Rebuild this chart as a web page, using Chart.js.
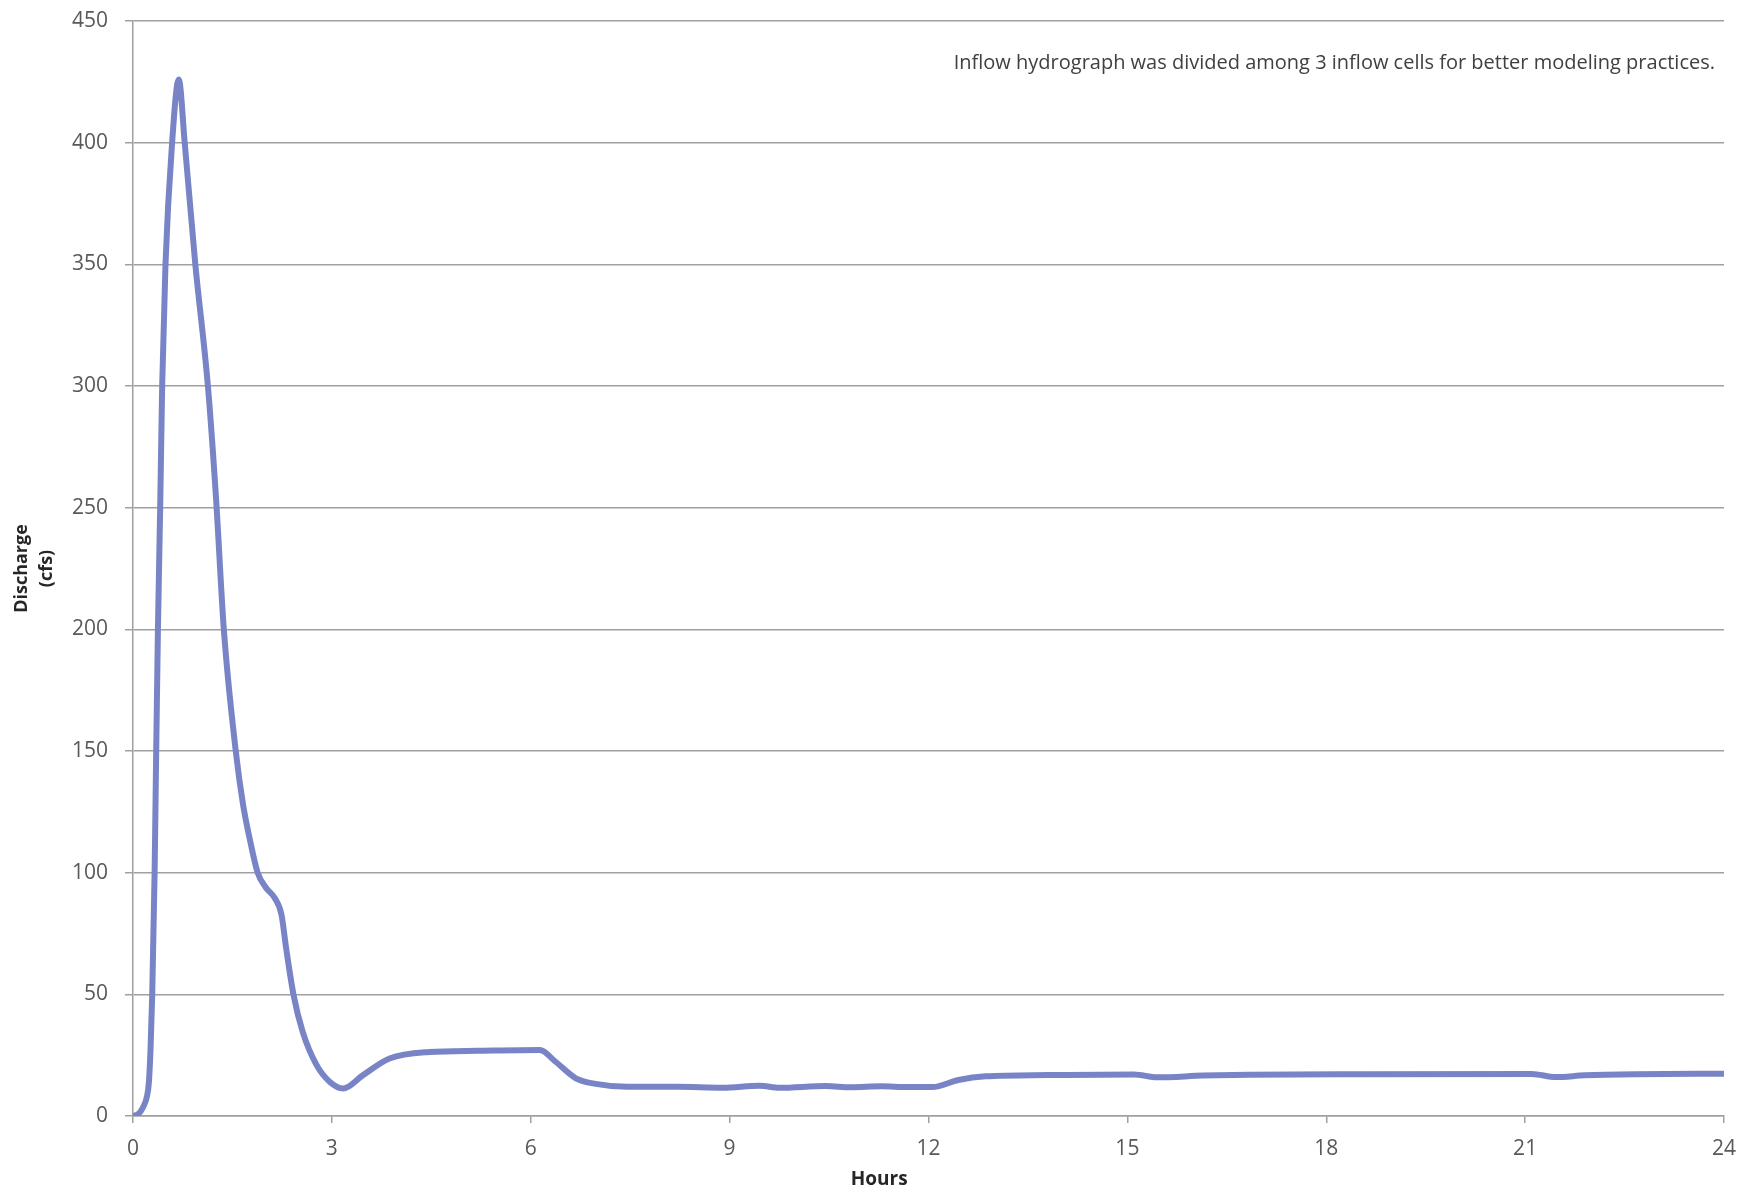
<!DOCTYPE html>
<html>
<head>
<meta charset="utf-8">
<script src="https://cdn.jsdelivr.net/npm/chart.js@4"></script>
<style>
  html, body { margin: 0; padding: 0; background: #ffffff; }
  #wrap { width: 1743px; height: 1192px; }
</style>
</head>
<body>
<div id="wrap"><canvas id="c" width="1743" height="1192"></canvas></div>
<script>
// ---- data ----
const hours = [0, 0.08, 0.15, 0.21, 0.24, 0.265, 0.29, 0.326, 0.35, 0.376, 0.41, 0.44, 0.49, 0.59, 0.69, 0.78, 0.94,
  1.13, 1.25, 1.37, 1.55, 1.66, 1.76, 1.88, 2.0, 2.14, 2.24, 2.31, 2.42, 2.56, 2.77, 2.97, 3.17, 3.47,
  3.87, 4.47, 5.2, 6.14, 6.37, 6.68, 6.98, 7.45, 8.2, 8.9, 9.45, 9.75, 10.45, 10.83, 11.29,
  11.68, 12.06, 12.45, 12.86, 13.8, 15.1, 15.45, 16.14, 16.83, 18.55, 21.1, 21.46, 21.9, 22.66, 24];
const discharge = [0, 0.8, 3.5, 8, 14, 28, 50, 100, 150, 200, 250, 300, 350, 400, 426, 400, 350,
  300, 255, 200, 150, 128, 114, 100, 94, 89.5, 82.7, 69, 50, 34.6, 20.9, 14, 11.3, 16.8,
  23.6, 26.3, 26.8, 27.1, 22.4, 15.5, 13.2, 12, 12, 11.6, 12.4, 11.6, 12.3, 11.8, 12.2,
  11.9, 11.9, 14.8, 16.3, 16.8, 17.1, 15.9, 16.6, 17, 17.2, 17.3, 16, 16.7, 17.2, 17.4];
const xTicks = [0, 3, 6, 9, 12, 15, 18, 21, 24];
const yTicks = [0, 50, 100, 150, 200, 250, 300, 350, 400, 450];
const yTitle = ['Discharge', '(cfs)'];
const xTitle = 'Hours';
const note = 'Inflow hydrograph was divided among 3 inflow cells for better modeling practices.';

const points = hours.map((h, i) => ({ x: h, y: discharge[i] }));

const textPlugin = {
  id: 'extraText',
  afterDraw(chart) {
    const ctx = chart.ctx;
    const a = chart.chartArea;
    ctx.save();
    ctx.fillStyle = '#404040';
    ctx.font = '20px "Open Sans", sans-serif';
    ctx.textAlign = 'right';
    ctx.textBaseline = 'middle';
    ctx.fillText(note, a.right - 9, a.top + 42);
    ctx.fillStyle = '#262626';
    ctx.font = 'bold 19px "Open Sans", sans-serif';
    ctx.textAlign = 'center';
    ctx.fillText(xTitle, a.left + (a.right - a.left) * 0.469, 1180);
    ctx.restore();
  }
};

new Chart(document.getElementById('c'), {
  type: 'line',
  data: {
    datasets: [{
      data: points,
      borderColor: '#7984c6',
      borderWidth: 6,
      pointRadius: 0,
      fill: false,
      cubicInterpolationMode: 'monotone'
    }]
  },
  options: {
    responsive: false,
    animation: false,
    devicePixelRatio: 1,
    layout: { padding: { top: 21, right: 19, left: 0, bottom: 0 } },
    plugins: { legend: { display: false }, tooltip: { enabled: false } },
    scales: {
      x: {
        type: 'linear',
        min: 0, max: 24,
        afterBuildTicks: s => { s.ticks = xTicks.map(v => ({ value: v })); },
        afterFit: s => { s.height = 76; s.paddingLeft = 0; s.paddingRight = 0; },
        grid: { drawOnChartArea: false, drawTicks: true, tickLength: 7, color: '#a0a0a0', lineWidth: 1.5 },
        border: { display: true, color: '#a0a0a0', width: 1.5 },
        ticks: { color: '#595959', font: { family: 'Open Sans', size: 21 }, padding: 13, maxRotation: 0 }
      },
      y: {
        min: 0, max: 450,
        afterBuildTicks: s => { s.ticks = yTicks.map(v => ({ value: v })); },
        afterFit: s => { s.width = 133; s.paddingTop = 0; s.paddingBottom = 0; },
        grid: { color: '#a0a0a0', lineWidth: 1.5, drawTicks: true, tickLength: 8 },
        border: { display: true, color: '#a0a0a0', width: 1.5 },
        ticks: { color: '#595959', font: { family: 'Open Sans', size: 21 }, padding: 17 },
        title: {
          display: true, text: yTitle, color: '#262626',
          font: { family: 'Open Sans', size: 18, weight: 'bold', lineHeight: 1.4 },
          padding: { top: 9.5, bottom: 0 }
        }
      }
    }
  },
  plugins: [textPlugin]
});
</script>
</body>
</html>
